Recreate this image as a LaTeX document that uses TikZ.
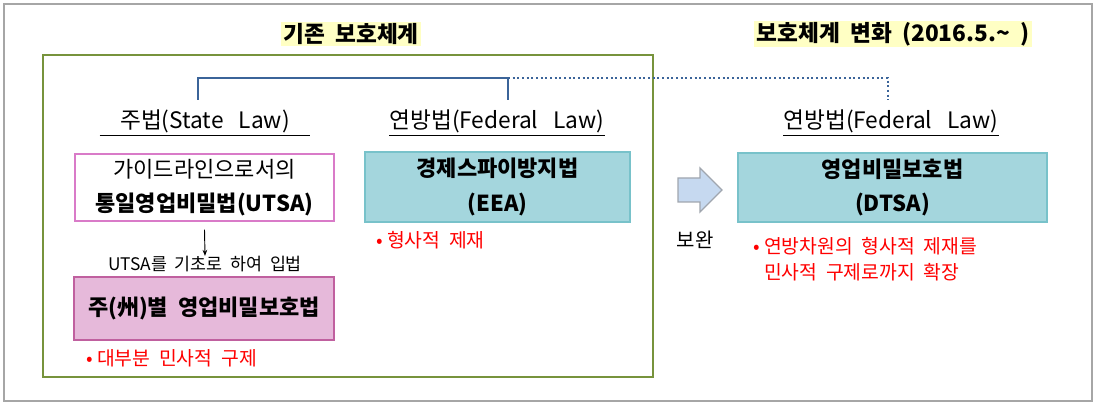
\documentclass[tikz,border=0pt]{standalone}
\usepackage{fontspec}
\setmainfont{Noto Sans CJK KR}
\usetikzlibrary{arrows.meta}
\definecolor{framegray}{HTML}{A6A6A6}
\definecolor{oldgreen}{HTML}{77933C}
\definecolor{brk}{HTML}{3B6499}
\definecolor{hilite}{HTML}{FFFFC4}
\definecolor{pinkline}{HTML}{D97BC8}
\definecolor{pinkfill}{HTML}{E6B9DA}
\definecolor{pinkdark}{HTML}{C0609F}
\definecolor{tealfill}{HTML}{A4D6DD}
\definecolor{tealline}{HTML}{78C2CA}
\definecolor{arrfill}{HTML}{C6D9F0}
\definecolor{arrline}{HTML}{A0A6AE}
\definecolor{redtxt}{HTML}{FF0000}
\tikzset{
  titlelbl/.style={fill=hilite, inner xsep=2pt, inner ysep=1pt, font=\fontsize{17}{18}\selectfont\bfseries},
  lawlbl/.style={inner sep=0pt, minimum width=157.5pt, minimum height=21pt, font=\fontsize{17}{18}\selectfont},
  lawbox/.style={align=center, inner sep=0pt, font=\fontsize{16.5}{26}\selectfont},
  bulletlbl/.style={anchor=west, align=left, inner sep=0pt, text=redtxt, font=\fontsize{14.5}{19.5}\selectfont},
  brkline/.style={draw=brk, line width=1.5pt},
}
\begin{document}
\begin{tikzpicture}[x=0.75pt,y=-0.75pt]
\useasboundingbox (0,0) rectangle (1096,406);
\draw[framegray, line width=1pt] (4,4) rectangle (1092,401);
% titles
\node[titlelbl] (t1) at (351,34) {기존\ \ 보호체계};
\node[titlelbl] (t2) at (893,34) {보호체계\ \ 변화\ \ (2016.5.\textasciitilde\ \ )};
% old-system frame
\draw[oldgreen, line width=1pt] (43,55) rectangle (653,377);
% law labels
\node[lawlbl] (state) at (205,121) {주법(State\ \ \ Law)};
\node[lawlbl] (fedA) at (497,121) {연방법(Federal\ \ \ Law)};
\node[lawlbl] (fedB) at (891,121) {연방법(Federal\ \ \ Law)};
\draw[black, line width=0.6pt] (state.south west) -- (state.south east);
\draw[black, line width=0.6pt] (fedA.south west) -- (fedA.south east);
\draw[black, line width=0.6pt] (fedB.south west) -- (fedB.south east);
% bracket
\coordinate (b1) at (198,100);
\coordinate (b2) at (508,100);
\coordinate (b3) at (888,100);
\coordinate (b2top) at (508,78);
\draw[brkline] (b1) |- (b2top) -- (b2);
\draw[brkline, dotted] (b2top) -| (b3);
% boxes
\node[lawbox, draw=pinkline, line width=1pt, fill=white, minimum width=194.25pt, minimum height=50.25pt] (uniform) at (204.5,187.5)
  {가이드라인으로서의\\\textbf{통일영업비밀법(UTSA)}};
\node[inner sep=0pt, font=\fontsize{13}{15}\selectfont] (basis) at (205,264) {UTSA를\ \ 기초로\ \ 하여\ \ 입법};
\draw[black, line width=0.7pt, -{Stealth[length=4.5pt,width=3.5pt]}] ([yshift=-6pt]uniform.south) -- (basis.north);
\node[lawbox, draw=pinkdark, line width=2pt, fill=pinkfill, minimum width=195pt, minimum height=47.25pt, font=\fontsize{16.5}{26}\selectfont\bfseries] (state2) at (204,308.5)
  {주(州)별\ \ 영업비밀보호법};
\node[bulletlbl] (bul1) at (86,358) {•\ 대부분\ \ 민사적\ \ 구제};
\node[lawbox, draw=tealline, line width=2pt, fill=tealfill, minimum width=198.75pt, minimum height=52.5pt, font=\fontsize{16.5}{26}\selectfont\bfseries] (eea) at (497.5,187)
  {경제스파이방지법\\(EEA)};
\node[bulletlbl] (bul2) at (376,240) {•\ 형사적\ \ 제재};
% block arrow
\draw[arrline, fill=arrfill, line width=1pt] (678,178) -- (700,178) -- (700,168) -- (722,190) -- (700,212) -- (700,202) -- (678,202) -- cycle;
\node[inner sep=0pt, font=\fontsize{15}{17}\selectfont] (supp) at (695,240) {보완};
\node[lawbox, draw=tealline, line width=2pt, fill=tealfill, minimum width=231.75pt, minimum height=51.75pt, font=\fontsize{16.5}{26}\selectfont\bfseries] (dtsa) at (892.5,187.5)
  {영업비밀보호법\\(DTSA)};
\node[bulletlbl] (bul3) at (753,259) {•\ 연방차원의\ \ 형사적\ \ 제재를\\\hphantom{•\ }민사적\ \ 구제로까지\ \ 확장};
\end{tikzpicture}
\end{document}
